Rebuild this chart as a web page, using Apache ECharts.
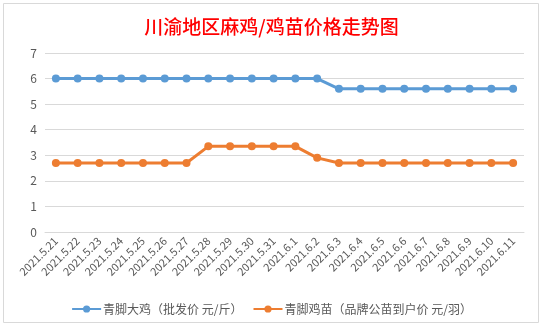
<!DOCTYPE html>
<html><head><meta charset="utf-8">
<script src="https://cdn.jsdelivr.net/npm/echarts@6/dist/echarts.min.js"></script>
<style>html,body{margin:0;padding:0;background:#fff}#c{width:543px;height:329px}</style>
</head><body><div id="c"></div>
<script>
const categories = ['2021.5.21','2021.5.22','2021.5.23','2021.5.24','2021.5.25','2021.5.26','2021.5.27','2021.5.28','2021.5.29','2021.5.30','2021.5.31','2021.6.1','2021.6.2','2021.6.3','2021.6.4','2021.6.5','2021.6.6','2021.6.7','2021.6.8','2021.6.9','2021.6.10','2021.6.11'];
const chickenPrice = [6,6,6,6,6,6,6,6,6,6,6,6,6,5.6,5.6,5.6,5.6,5.6,5.6,5.6,5.6,5.6];
const chickPrice = [2.7,2.7,2.7,2.7,2.7,2.7,2.7,3.35,3.35,3.35,3.35,3.35,2.9,2.7,2.7,2.7,2.7,2.7,2.7,2.7,2.7,2.7];
const seriesNames = ['青脚大鸡（批发价 元/斤）','青脚鸡苗（品牌公苗到户价 元/羽）'];
const titleText = '川渝地区麻鸡/鸡苗价格走势图';
const font = '"Noto Sans CJK SC", sans-serif';
const chart = echarts.init(document.getElementById('c'));
chart.setOption({
  animation:false,
  textStyle:{fontFamily:font},
  graphic:[{type:'rect',shape:{x:3.5,y:3.5,width:535,height:319},style:{fill:'none',stroke:'#d9d9d9',lineWidth:1},silent:true}],
  title:{text:titleText,left:'center',top:12,textStyle:{color:'#ff0000',fontSize:19,fontWeight:500,fontFamily:font}},
  grid:{left:45,right:19,top:53,bottom:97,containLabel:false},
  legend:{bottom:9,left:'center',itemWidth:29,itemHeight:9,itemGap:10,textStyle:{color:'#595959',fontSize:12,fontFamily:font,padding:[0,0,0,-3]},data:seriesNames},
  xAxis:{type:'category',data:categories,boundaryGap:true,
    axisLine:{lineStyle:{color:'#d9d9d9'}},axisTick:{show:false},
    axisLabel:{rotate:45,interval:0,color:'#595959',fontSize:11,margin:7,fontFamily:font}},
  yAxis:{type:'value',min:0,max:7,interval:1,
    axisLine:{show:false},axisTick:{show:false},
    splitLine:{lineStyle:{color:'#d9d9d9'}},
    axisLabel:{color:'#595959',fontSize:12,margin:8,fontFamily:font}},
  series:[
    {name:seriesNames[0],type:'line',data:chickenPrice,symbol:'circle',symbolSize:8,
     itemStyle:{color:'#5B9BD5'},lineStyle:{color:'#5B9BD5',width:3}},
    {name:seriesNames[1],type:'line',data:chickPrice,symbol:'circle',symbolSize:8,
     itemStyle:{color:'#ED7D31'},lineStyle:{color:'#ED7D31',width:3}}
  ]
});
</script></body></html>
